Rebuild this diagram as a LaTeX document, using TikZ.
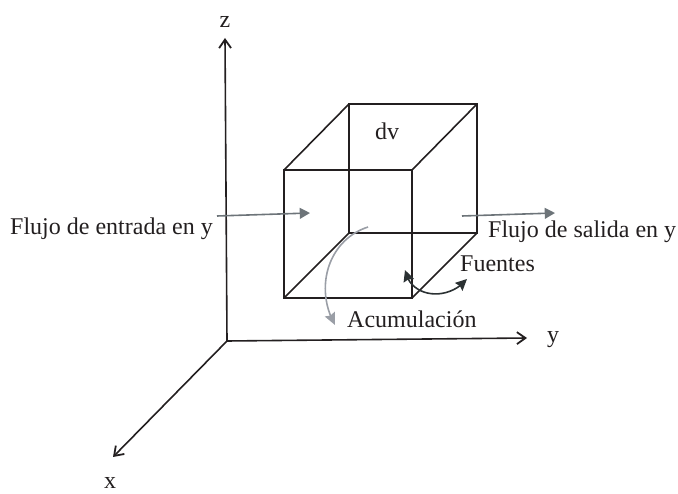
\documentclass[tikz,border=0pt]{standalone}
\usepackage{fontspec}
\setmainfont{Liberation Serif}
\usepackage{xcolor}
\definecolor{cLine}{HTML}{231F20}
\definecolor{cFlow}{HTML}{6D7479}
\definecolor{cStore}{HTML}{9A9EA6}
\definecolor{cSource}{HTML}{2B3133}
\usetikzlibrary{arrows.meta,bending}
\tikzset{
  label-text/.style={inner sep=0pt,anchor=base,font=\fontsize{24}{28}\selectfont,text=cLine},
  axis/.style={-{Straight Barb[length=3mm,width=4.2mm,line width=1.8pt]},line width=1.6pt,draw=cLine},
  edge-cube/.style={line width=1.6pt,draw=cLine,line join=miter},
  arrow-flow/.style={-{Triangle[length=3.6mm,width=3.8mm]},line width=1.6pt,draw=cFlow},
  arrow-store/.style={-{Stealth[length=4.2mm,width=3.8mm,inset=0.5mm,flex]},line width=1.6pt,draw=cStore},
  arrow-source/.style={{Stealth[length=4mm,width=3.8mm,inset=0.5mm,flex]}-{Stealth[length=4mm,width=3.8mm,inset=0.5mm,flex]},line width=1.6pt,draw=cSource},
}
\begin{document}
\begin{tikzpicture}[x=1pt,y=-1pt]
  \useasboundingbox (0,0) rectangle (678,494);

  % ejes
  \coordinate (orig) at (227,341);
  \coordinate (zEnd) at (225,38);
  \coordinate (yEnd) at (527,338);
  \coordinate (xEnd) at (113,457);
  \draw[axis] (orig) -- (zEnd);
  \draw[axis] (orig) -- (yEnd);
  \draw[axis] (orig) -- (xEnd);
  \node[label-text] (zLabel) at (225,28) {z};
  \node[label-text] (yLabel) at (553,343) {y};
  \node[label-text] (xLabel) at (110,488) {x};

  % cubo
  \coordinate (fTL) at (284,170);
  \coordinate (fTR) at (412,170);
  \coordinate (fBR) at (412,298);
  \coordinate (fBL) at (284,298);
  \coordinate (bTL) at (349,104);
  \coordinate (bTR) at (477,104);
  \coordinate (bBR) at (477,233);
  \coordinate (bBL) at (349,233);
  \draw[edge-cube] (fTL) -- (fTR) -- (fBR) -- (fBL) -- cycle;
  \draw[edge-cube] (bTL) -- (bTR) -- (bBR) -- (bBL) -- cycle;
  \draw[edge-cube] (fTL) -- (bTL);
  \draw[edge-cube] (fTR) -- (bTR);
  \draw[edge-cube] (fBR) -- (bBR);
  \draw[edge-cube] (fBL) -- (bBL);
  \node[label-text] (dv) at (387,140) {dv};

  % flujos
  \node[label-text,anchor=base west] (inLabel) at (10,235) {Flujo de entrada en y};
  \node[label-text,anchor=base west] (outLabel) at (488,238) {Flujo de salida en y};
  \coordinate (inStart) at (217,216);
  \coordinate (inEnd) at (310,213);
  \coordinate (outStart) at (462,216);
  \coordinate (outEnd) at (555,213);
  \draw[arrow-flow] (inStart) -- (inEnd);
  \draw[arrow-flow] (outStart) -- (outEnd);

  % acumulacion y fuentes
  \node[label-text,anchor=base west] (accLabel) at (347,328) {Acumulación};
  \node[label-text,anchor=base west] (srcLabel) at (460,272) {Fuentes};
  \coordinate (accStart) at (368,227);
  \coordinate (accEnd) at (335,325);
  \coordinate (srcStart) at (405,270);
  \coordinate (srcEnd) at (467,279);
  \draw[arrow-store] (accStart) .. controls (328,240) and (314,288) .. (accEnd);
  \draw[arrow-source] (srcStart) .. controls (410,298) and (448,302) .. (srcEnd);
\end{tikzpicture}
\end{document}
